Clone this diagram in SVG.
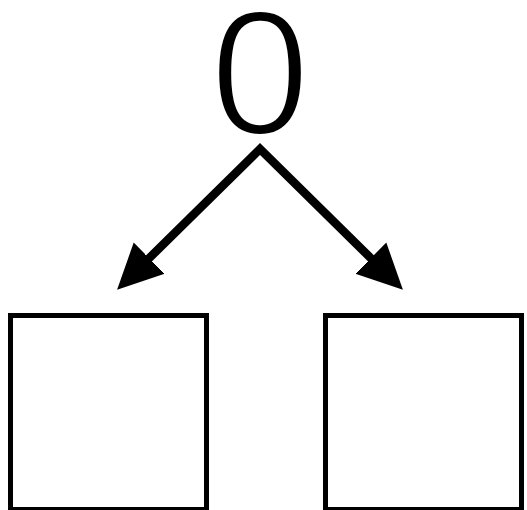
<svg xmlns="http://www.w3.org/2000/svg" width="527" height="510" viewBox="0 0 527 510">
<style>
.box{fill:#fff;stroke:#000;stroke-width:5}
.conn{stroke:#000;stroke-width:8.5;fill:none;stroke-linecap:butt;stroke-linejoin:miter;stroke-miterlimit:10}
.lbl{font-family:"Liberation Sans",Arial,sans-serif;font-size:179px;fill:#000;stroke:#fff;stroke-width:3.9}
</style>
<defs>
<marker id="ah" markerUnits="userSpaceOnUse" markerWidth="50" markerHeight="50" refX="4" refY="25" orient="auto-start-reverse">
<path d="M45,25 L0,3 L0,47 Z" fill="#000"/>
</marker>
</defs>
<rect width="527" height="510" fill="#fff"/>
<g id="root"><text class="lbl" x="260" y="133.8" text-anchor="middle">0</text></g>
<g id="left"><rect class="box" x="10.5" y="315.5" width="196" height="194"/></g>
<g id="right"><rect class="box" x="325.5" y="315.5" width="196" height="194"/></g>
<g id="connectors">
<path class="conn" d="M146.3,261 L260,149 L373.7,261" marker-start="url(#ah)" marker-end="url(#ah)"/>
</g>
</svg>
